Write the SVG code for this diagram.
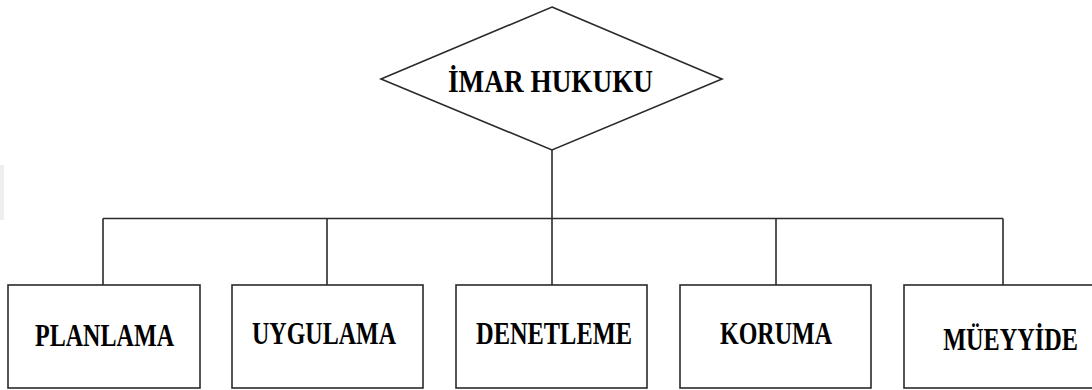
<svg xmlns="http://www.w3.org/2000/svg" width="1092" height="390" viewBox="0 0 1092 390">
<style>
.shape{fill:#fff;stroke:#2a2a2a;stroke-width:1.6}
.conn{fill:none;stroke:#2a2a2a;stroke-width:1.6}
.lbl{font-family:"Liberation Serif","Times New Roman",serif;font-weight:bold;font-size:32px;fill:#000;text-anchor:middle}
</style>
<rect x="0" y="165" width="4" height="55" fill="#eeeeee"/>
<g id="connectors">
<line class="conn" x1="552" y1="150" x2="552" y2="218.5"/>
<line class="conn" x1="103" y1="218.5" x2="1003" y2="218.5"/>
<line class="conn" x1="103" y1="218.5" x2="103" y2="285"/>
<line class="conn" x1="327" y1="218.5" x2="327" y2="285"/>
<line class="conn" x1="552" y1="218.5" x2="552" y2="285"/>
<line class="conn" x1="776" y1="218.5" x2="776" y2="285"/>
<line class="conn" x1="1003" y1="218.5" x2="1003" y2="285"/>
</g>
<g id="imar-hukuku">
<polygon class="shape" points="552,7 722,79 552,150 381,79"/>
<text class="lbl" x="550.5" y="92" textLength="205" lengthAdjust="spacingAndGlyphs">İMAR HUKUKU</text>
</g>
<g id="planlama">
<rect class="shape" x="8" y="285" width="192" height="103"/>
<text class="lbl" x="104.5" y="346" textLength="139" lengthAdjust="spacingAndGlyphs">PLANLAMA</text>
</g>
<g id="uygulama">
<rect class="shape" x="232" y="285" width="191" height="103"/>
<text class="lbl" x="324" y="343.5" textLength="144" lengthAdjust="spacingAndGlyphs">UYGULAMA</text>
</g>
<g id="denetleme">
<rect class="shape" x="456" y="285" width="191" height="103"/>
<text class="lbl" x="554" y="343.5" textLength="156" lengthAdjust="spacingAndGlyphs">DENETLEME</text>
</g>
<g id="koruma">
<rect class="shape" x="680" y="285" width="191" height="103"/>
<text class="lbl" x="776" y="343.5" textLength="112" lengthAdjust="spacingAndGlyphs">KORUMA</text>
</g>
<g id="mueyyide">
<rect class="shape" x="904" y="285" width="200" height="103"/>
<text class="lbl" transform="translate(1010.5,350) scale(0.758,1)" x="0" y="0">MÜEYYİDE</text>
</g>
</svg>
